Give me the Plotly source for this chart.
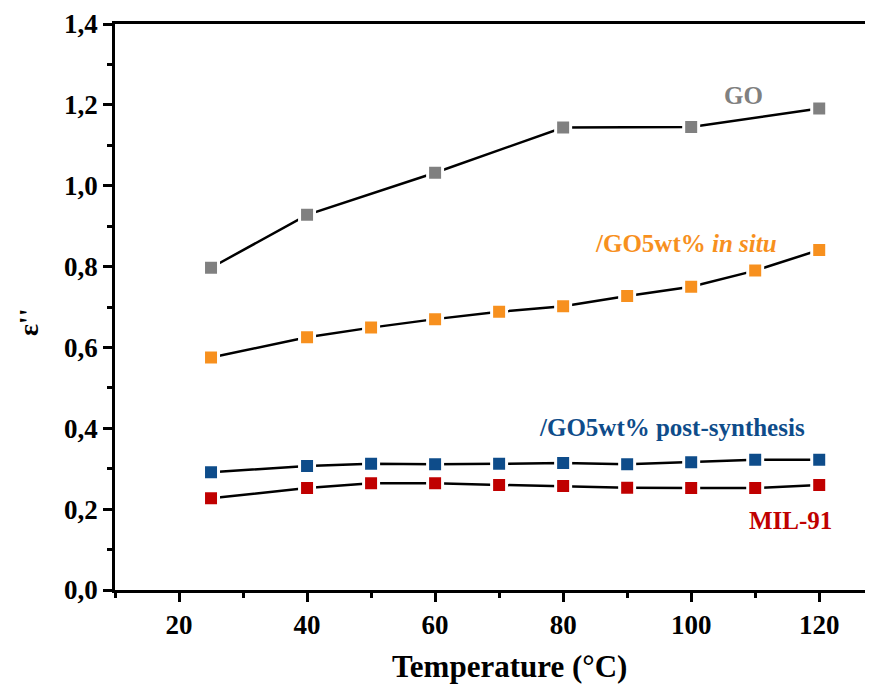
import plotly.graph_objects as go

temps_go = [25, 40, 60, 80, 100, 120]
eps_go = [0.797, 0.928, 1.032, 1.144, 1.145, 1.191]

temps = [25, 40, 50, 60, 70, 80, 90, 100, 110, 120]
eps_insitu = [0.575, 0.625, 0.649, 0.670, 0.688, 0.702, 0.727, 0.750, 0.790, 0.841]
eps_post = [0.291, 0.307, 0.312, 0.311, 0.312, 0.314, 0.311, 0.316, 0.322, 0.322]
eps_mil = [0.227, 0.252, 0.264, 0.264, 0.260, 0.257, 0.253, 0.252, 0.252, 0.260]

series = [
    ("GO", temps_go, eps_go, "#808080"),
    ("/GO5wt% in situ", temps, eps_insitu, "#F7901E"),
    ("/GO5wt% post-synthesis", temps, eps_post, "#0E4C8A"),
    ("MIL-91", temps, eps_mil, "#C00000"),
]

FONT = "Liberation Serif"

fig = go.Figure()
for name, xs, ys, col in series:
    fig.add_trace(go.Scatter(
        x=xs, y=ys, mode="lines+markers", name=name,
        line=dict(color="black", width=2.5),
        marker=dict(symbol="square", size=15, color=col,
                    line=dict(color="white", width=3)),
        showlegend=False,
    ))

labels = [
    ("<b>GO</b>", 108.1, 1.224, "#808080"),
    ("<b>/GO5wt% <i>in situ</i></b>", 99.2, 0.858, "#F7901E"),
    ("<b>/GO5wt% post-synthesis</b>", 97.0, 0.403, "#0E4C8A"),
    ("<b>MIL-91</b>", 115.5, 0.171, "#C00000"),
]
for txt, x, y, col in labels:
    fig.add_annotation(x=x, y=y, text=txt, showarrow=False,
                       font=dict(family=FONT, size=25, color=col),
                       xanchor="center", yanchor="middle")

# axis titles
fig.add_annotation(x=0.52, xref="paper", y=-0.136, yref="paper",
                   text="<b>Temperature (°C)</b>", showarrow=False,
                   font=dict(family=FONT, size=31, color="black"),
                   xanchor="center", yanchor="middle")
fig.add_annotation(x=-0.115, xref="paper", y=0.473, yref="paper",
                   text="<b>ε''</b>", showarrow=False, textangle=-90,
                   font=dict(family=FONT, size=28, color="black"),
                   xanchor="center", yanchor="middle")

axis_common = dict(
    showline=True, linecolor="black", linewidth=2.5,
    ticks="outside", tickcolor="black", tickwidth=2.5, ticklen=9,
    showgrid=False, zeroline=False, automargin=False,
    tickfont=dict(family=FONT, size=27, color="black", weight="bold"),
)

fig.update_xaxes(
    range=[10, 128.4], tick0=20, dtick=20, mirror=True,
    minor=dict(dtick=10, ticks="outside", ticklen=5, tickwidth=2.5, tickcolor="black"),
    **axis_common,
)
fig.update_yaxes(
    range=[0, 1.4], tick0=0, dtick=0.2, tickformat=".1f",
    minor=dict(dtick=0.1, ticks="outside", ticklen=5, tickwidth=2.5, tickcolor="black"),
    **axis_common,
)

fig.update_layout(
    width=865, height=676,
    margin=dict(l=107, r=0, t=16, b=94),
    plot_bgcolor="white", paper_bgcolor="white",
    separators=", ",
)

fig.write_html("out.html")
